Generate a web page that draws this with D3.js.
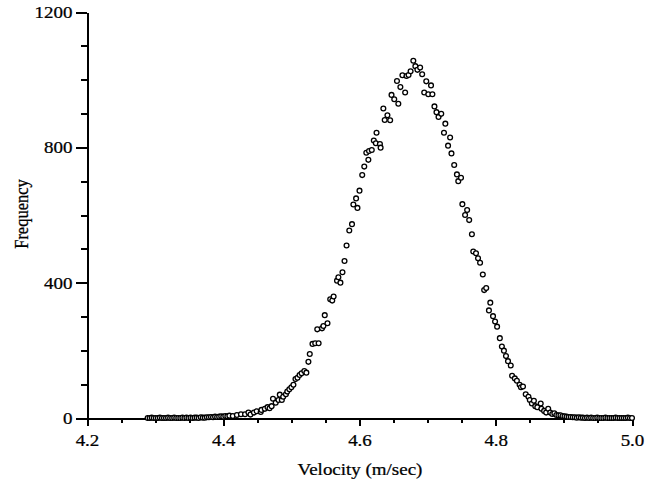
<!DOCTYPE html>
<html>
<head>
<meta charset="utf-8">
<title>Velocity histogram</title>
<style type="text/css">
  body { margin: 0; background: #fff; }
  svg text { font-family: "Liberation Serif", Tinos, "Times New Roman", Times, serif; fill: #000; stroke: #000; stroke-width: 0.25px; }
  .axis path, .axis line { stroke: #000; stroke-width: 2px; shape-rendering: crispEdges; }
  .point { fill: #fff; stroke: #000; stroke-width: 1.3px; }
</style>
</head>
<body>
<div id="chart"></div>
<script src="https://d3js.org/d3.v7.min.js"></script>
<script>
// velocity (m/sec) of each histogram bin
var velocity = [
  4.289,4.292,4.295,4.298,4.301,4.304,4.307,4.310,4.313,4.316,
  4.319,4.322,4.325,4.328,4.331,4.334,4.337,4.340,4.343,4.346,
  4.349,4.352,4.355,4.358,4.361,4.364,4.367,4.370,4.373,4.376,
  4.379,4.382,4.385,4.388,4.391,4.394,4.397,4.400,4.403,4.406,
  4.409,
  4.414,4.420,4.426,4.432,4.437,4.440,4.445,4.449,4.455,4.456,
  4.461,4.465,4.468,4.471,4.473,4.477,4.481,4.483,4.486,4.488,
  4.492,4.494,4.497,4.500,4.503,4.506,4.509,4.512,4.515,4.519,
  4.522,4.525,4.527,4.531,4.535,4.538,4.540,4.545,4.547,4.549,
  4.553,4.557,4.560,4.562,4.567,4.569,4.572,4.575,4.578,4.581,
  4.585,4.589,4.591,4.595,4.597,4.600,4.604,4.607,4.610,4.613,
  4.614,4.618,4.621,4.624,4.625,4.630,4.631,4.635,4.637,4.641,
  4.645,4.647,4.651,4.655,4.657,4.660,4.663,4.667,4.669,4.672,
  4.675,4.679,4.682,4.685,4.689,4.692,4.695,4.698,4.701,4.705,
  4.707,4.710,4.713,4.716,4.720,4.724,4.726,4.730,4.733,4.735,
  4.739,4.743,4.745,4.749,4.751,4.755,4.758,4.761,4.765,4.767,
  4.771,4.774,4.777,4.781,4.783,4.786,4.790,4.792,4.796,4.799,
  4.802,4.806,4.809,4.812,4.815,4.818,4.822,4.824,4.828,4.831,
  4.835,4.837,4.840,4.844,4.848,4.850,4.853,4.856,4.858,4.861,
  4.866,4.867,4.871,4.874,4.877,
  4.880,4.883,4.886,4.889,4.892,4.895,4.898,4.901,4.904,4.907,
  4.910,4.913,4.916,4.919,4.922,4.925,4.928,4.931,4.934,4.937,
  4.940,4.943,4.946,4.949,4.952,4.955,4.958,4.961,4.964,4.967,
  4.970,4.973,4.976,4.979,4.982,4.985,4.988,4.991,4.994,4.997,
  5.000
];

// frequency (count) per bin
var frequency = [
  0,0,1,0,0,0,1,0,0,0,
  1,0,0,1,0,0,0,1,0,1,
  0,1,0,1,1,0,2,1,1,2,
  2,3,2,4,3,4,5,4,6,5,
  7,
  6,9,11,11,16,10,16,20,18,24,
  27,32,29,35,57,45,53,69,53,63,
  70,78,85,91,98,115,119,127,132,139,
  134,166,189,219,221,262,221,265,272,304,
  280,351,347,359,406,416,400,431,464,510,
  554,573,631,649,621,672,718,743,784,763,
  789,792,820,812,843,810,799,915,881,895,
  880,955,942,996,929,978,1013,962,1011,1014,
  1025,1056,1040,1029,1036,1016,962,995,957,983,
  957,921,904,890,899,843,870,805,829,782,
  748,720,700,710,632,600,615,585,543,492,
  487,472,459,424,378,384,318,341,301,285,
  270,236,211,199,183,168,155,125,117,110,
  98,91,93,70,63,53,43,51,35,32,
  43,27,21,16,27,
  16,12,14,9,8,8,6,5,4,3,
  3,2,2,1,2,1,1,0,1,0,
  1,0,0,1,0,0,0,1,0,0,
  0,0,1,0,0,0,0,0,1,0,
  0
];

var xTicks = [4.2, 4.4, 4.6, 4.8, 5.0];
var xMinorTicks = [4.25, 4.3, 4.35, 4.45, 4.5, 4.55, 4.65, 4.7, 4.75, 4.85, 4.9, 4.95];
var yTicks = [0, 400, 800, 1200];
var yMinorTicks = [100, 200, 300, 500, 600, 700, 900, 1000, 1100];

var width = 665,
    height = 487,
    stretch = 1.15;   // the scanned figure's lettering is wider than tall

var svg = d3.select("#chart").append("svg")
    .attr("width", width)
    .attr("height", height);

var x = d3.scaleLinear().domain([4.2, 5.0]).range([87, 632]);
var y = d3.scaleLinear().domain([0, 1200]).range([418, 12]);

// minor ticks first, majors on top
svg.append("g").attr("class", "axis")
    .attr("transform", "translate(0,418)")
    .call(d3.axisBottom(x).tickValues(xMinorTicks).tickSize(5).tickSizeOuter(0).tickFormat(""));
svg.append("g").attr("class", "axis")
    .attr("transform", "translate(87,0)")
    .call(d3.axisLeft(y).tickValues(yMinorTicks).tickSize(6).tickSizeOuter(0).tickFormat(""));

var xAxis = svg.append("g").attr("class", "axis")
    .attr("transform", "translate(0,418)")
    .call(d3.axisBottom(x).tickValues(xTicks).tickSize(8).tickSizeOuter(0).tickFormat(d3.format(".1f")));
xAxis.selectAll("text")
    .attr("y", 16).attr("dy", "0.71em")
    .style("font-size", "16.5px")
    .attr("transform", "scale(" + stretch + ",1)");

var yAxis = svg.append("g").attr("class", "axis")
    .attr("transform", "translate(87,0)")
    .call(d3.axisLeft(y).tickValues(yTicks).tickSize(11).tickSizeOuter(0).tickFormat(d3.format("d")));
yAxis.selectAll("text")
    .attr("x", -14.5 / stretch).attr("dy", "0.34em")
    .style("font-size", "16.5px")
    .attr("transform", "scale(" + stretch + ",1)");

// axis titles
svg.append("text")
    .attr("transform", "translate(360,475) scale(" + stretch + ",1)")
    .attr("text-anchor", "middle")
    .style("font-size", "16.5px")
    .text("Velocity (m/sec)");

svg.append("text")
    .attr("transform", "translate(28,214) scale(" + stretch + ",1) rotate(-90)")
    .attr("text-anchor", "middle")
    .style("font-size", "16.5px")
    .text("Frequency");

// data points
svg.append("g").selectAll("circle")
    .data(d3.zip(velocity, frequency))
    .enter().append("circle")
    .attr("class", "point")
    .attr("cx", function (d) { return x(d[0]); })
    .attr("cy", function (d) { return y(d[1]); })
    .attr("r", 2.4);
</script>
</body>
</html>
